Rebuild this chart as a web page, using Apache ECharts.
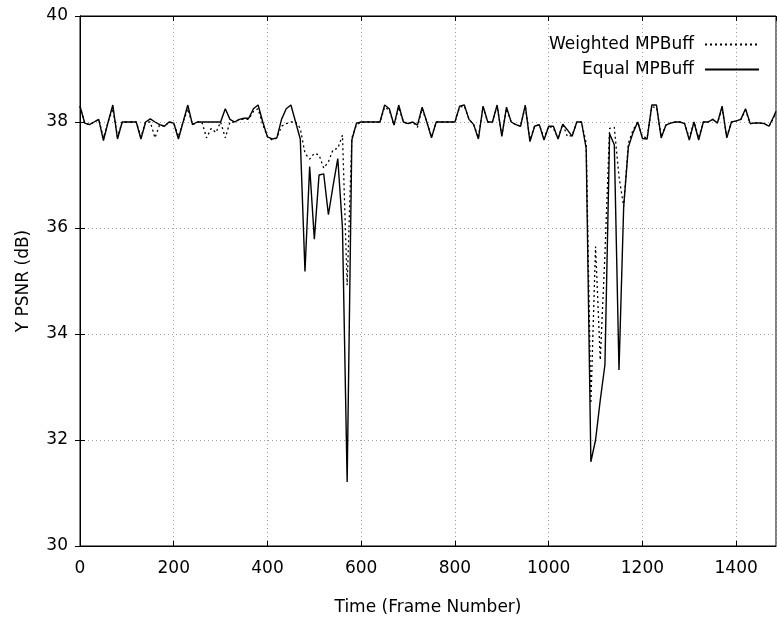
<!DOCTYPE html>
<html>
<head>
<meta charset="utf-8">
<script src="https://cdn.jsdelivr.net/npm/echarts@6/dist/echarts.min.js"></script>
<style>
  html, body { margin: 0; padding: 0; background: #fff; }
  #main { width: 777px; height: 625px; }
</style>
</head>
<body>
<div id="main"></div>
<script>
// frame numbers (x)
var frames = [
    0, 10, 20, 30, 40, 50, 60, 70, 80, 90,
    100, 110, 120, 130, 140, 150, 160, 170, 180, 190,
    200, 210, 220, 230, 240, 250, 260, 270, 280, 290,
    300, 310, 320, 330, 340, 350, 360, 370, 380, 390,
    400, 410, 420, 430, 440, 450, 460, 470, 480, 490,
    500, 510, 520, 530, 540, 550, 560, 570, 580, 590,
    600, 610, 620, 630, 640, 650, 660, 670, 680, 690,
    700, 710, 720, 730, 740, 750, 760, 770, 780, 790,
    800, 810, 820, 830, 840, 850, 860, 870, 880, 890,
    900, 910, 920, 930, 940, 950, 960, 970, 980, 990,
    1000, 1010, 1020, 1030, 1040, 1050, 1060, 1070, 1080, 1090,
    1100, 1110, 1120, 1130, 1140, 1150, 1160, 1170, 1180, 1190,
    1200, 1210, 1220, 1230, 1240, 1250, 1260, 1270, 1280, 1290,
    1300, 1310, 1320, 1330, 1340, 1350, 1360, 1370, 1380, 1390,
    1400, 1410, 1420, 1430, 1440, 1450, 1460, 1470, 1480, 1485
];

// Equal MPBuff (solid)
var equalPsnr = [
    38.30, 37.98, 37.95, 38.00, 38.05, 37.65, 38.00, 38.32, 37.68, 38.00,
    38.00, 38.00, 38.00, 37.68, 38.00, 38.06, 38.00, 37.95, 37.92, 38.00,
    37.98, 37.68, 38.00, 38.32, 37.95, 38.00, 38.00, 38.00, 38.00, 38.00,
    38.00, 38.25, 38.05, 38.00, 38.05, 38.07, 38.07, 38.25, 38.32, 38.00,
    37.72, 37.68, 37.70, 38.05, 38.25, 38.32, 38.00, 37.68, 35.18, 37.16,
    35.79, 37.00, 37.02, 36.25, 36.80, 37.31, 36.00, 31.21, 37.66, 37.98,
    38.00, 38.00, 38.00, 38.00, 38.00, 38.32, 38.25, 37.94, 38.32, 38.00,
    37.97, 38.00, 37.94, 38.28, 38.00, 37.70, 38.00, 38.00, 38.00, 38.00,
    38.00, 38.30, 38.32, 38.05, 37.95, 37.68, 38.30, 38.00, 38.00, 38.32,
    37.73, 38.28, 38.00, 37.95, 37.92, 38.32, 37.63, 37.92, 37.95, 37.66,
    37.92, 37.92, 37.68, 37.96, 37.85, 37.73, 38.00, 38.00, 37.50, 31.59,
    32.00, 32.75, 33.42, 37.78, 37.57, 33.32, 36.40, 37.53, 37.80, 38.00,
    37.69, 37.68, 38.32, 38.32, 37.70, 37.94, 37.98, 38.00, 38.00, 37.97,
    37.66, 38.00, 37.66, 38.00, 38.00, 38.05, 37.98, 38.30, 37.70, 38.00,
    38.02, 38.05, 38.25, 37.97, 37.98, 37.98, 37.97, 37.92, 38.10, 38.20
];

// Weighted MPBuff (dotted)
var weightedPsnr = [
    38.30, 37.98, 37.95, 38.00, 38.05, 37.70, 38.00, 38.25, 37.72, 38.00,
    38.00, 38.00, 38.00, 37.72, 38.00, 38.00, 37.70, 37.95, 37.92, 38.00,
    37.98, 37.72, 38.00, 38.25, 37.95, 38.00, 38.00, 37.70, 37.88, 37.80,
    38.00, 37.70, 38.00, 38.00, 38.05, 38.05, 38.05, 38.20, 38.25, 37.95,
    37.72, 37.66, 37.70, 37.92, 37.97, 38.00, 38.00, 37.88, 37.41, 37.30,
    37.41, 37.38, 37.13, 37.25, 37.48, 37.50, 37.75, 34.92, 37.70, 37.95,
    38.00, 38.00, 38.00, 38.00, 38.00, 38.28, 38.22, 37.94, 38.28, 38.00,
    37.97, 38.00, 37.90, 38.25, 38.00, 37.72, 38.00, 38.00, 38.00, 38.00,
    38.00, 38.28, 38.30, 38.05, 37.95, 37.70, 38.28, 38.00, 38.00, 38.30,
    37.75, 38.25, 38.00, 37.95, 37.92, 38.30, 37.66, 37.92, 37.95, 37.70,
    37.92, 37.88, 37.70, 37.96, 37.72, 37.75, 38.00, 38.00, 37.60, 32.69,
    35.65, 33.51, 35.50, 37.88, 37.90, 36.97, 36.40, 37.60, 37.85, 38.00,
    37.72, 37.70, 38.28, 38.28, 37.72, 37.94, 37.98, 38.00, 38.00, 37.97,
    37.70, 38.00, 37.70, 38.00, 38.00, 38.05, 37.98, 38.25, 37.72, 38.00,
    38.02, 38.05, 38.22, 37.97, 37.98, 37.98, 37.97, 37.92, 38.08, 38.18
];

var xTicks = { min: 0, max: 1485, interval: 200 };
var yTicks = { min: 30, max: 40, interval: 2 };

var pairs = function(xs, ys) {
    var res = [];
    for (var i = 0; i < xs.length; i++) {
        res.push([xs[i], ys[i]]);
    }
    return res;
};

var font = 'DejaVu Sans';
var gridLine = { show: true, lineStyle: { color: '#a0a0a0', type: [1, 3], width: 1 } };
var tickIn = { show: true, inside: true, length: 5, lineStyle: { color: '#000' } };
var blackLine = { show: true, lineStyle: { color: '#000', width: 1 } };

var chart = echarts.init(document.getElementById('main'));
chart.setOption({
    animation: false,
    backgroundColor: '#fff',
    textStyle: { fontFamily: font, color: '#000' },
    grid: { left: 80, right: 1, top: 16, bottom: 79, show: true, borderColor: '#000', borderWidth: 1 },
    legend: {
        orient: 'vertical',
        align: 'right',
        right: 12,
        top: 31,
        itemWidth: 54,
        itemHeight: 14,
        itemGap: 8,
        itemStyle: { color: 'rgba(0,0,0,0)', borderWidth: 0, opacity: 0 },
        textStyle: { fontFamily: font, fontSize: 17, color: '#000', padding: [0, 6, 0, 0] },
        data: ['Weighted MPBuff', 'Equal MPBuff']
    },
    xAxis: [
        {
            type: 'value', min: xTicks.min, max: xTicks.max, interval: xTicks.interval,
            name: 'Time (Frame Number)', nameLocation: 'middle', nameGap: 53,
            nameTextStyle: { fontFamily: font, fontSize: 17, color: '#000' },
            axisLine: blackLine, axisTick: tickIn, splitLine: gridLine,
            axisLabel: {
                fontFamily: font, fontSize: 17, color: '#000', margin: 14, showMaxLabel: false,
                formatter: function(v) { return String(v); }
            }
        },
        {
            type: 'value', position: 'top', min: xTicks.min, max: xTicks.max, interval: xTicks.interval,
            axisLine: blackLine, axisTick: tickIn, splitLine: { show: false },
            axisLabel: { show: false }
        }
    ],
    yAxis: [
        {
            type: 'value', min: yTicks.min, max: yTicks.max, interval: yTicks.interval,
            name: 'Y PSNR (dB)', nameLocation: 'middle', nameGap: 48,
            nameTextStyle: { fontFamily: font, fontSize: 17, color: '#000' },
            axisLine: blackLine, axisTick: tickIn, splitLine: gridLine,
            axisLabel: { fontFamily: font, fontSize: 17, color: '#000', margin: 12 }
        },
        {
            type: 'value', position: 'right', min: yTicks.min, max: yTicks.max, interval: yTicks.interval,
            axisLine: blackLine, axisTick: tickIn, splitLine: { show: false },
            axisLabel: { show: false }
        }
    ],
    series: [
        {
            name: 'Weighted MPBuff',
            type: 'line',
            symbol: 'none',
            lineStyle: { color: '#000', width: 1.3, type: [2, 3] },
            itemStyle: { color: '#000' },
            data: pairs(frames, weightedPsnr)
        },
        {
            name: 'Equal MPBuff',
            type: 'line',
            symbol: 'none',
            lineStyle: { color: '#000', width: 1.4 },
            itemStyle: { color: '#000' },
            data: pairs(frames, equalPsnr)
        }
    ]
});
</script>
</body>
</html>
